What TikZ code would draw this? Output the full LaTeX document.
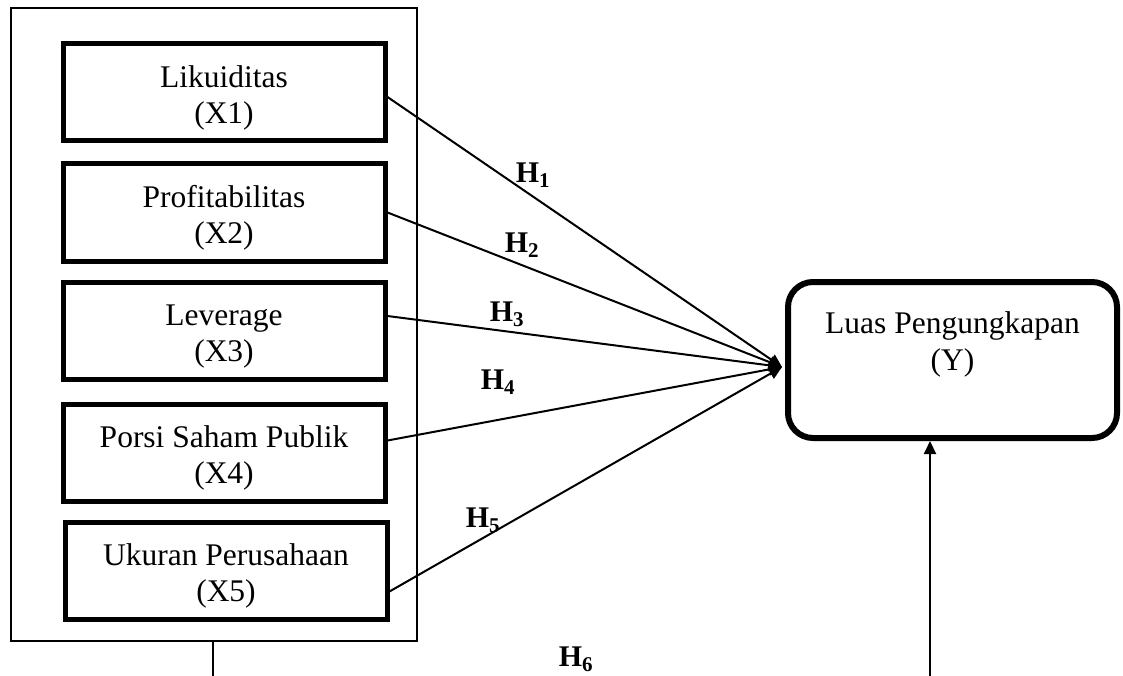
\documentclass[tikz,border=0pt]{standalone}
\usepackage{fontspec}
\setmainfont{Liberation Serif}
\usetikzlibrary{calc,arrows.meta}

\begin{document}
\begin{tikzpicture}[x=1pt, y=-1pt, >={Triangle[length=13pt,width=12pt]},
    varbox/.style={draw, line width=5pt, minimum width=322pt, minimum height=97pt,
        inner sep=0pt, text height=68pt, align=center, font=\fontsize{31.5}{36}\selectfont},
    hlabel/.style={font=\fontsize{30}{34}\selectfont\bfseries},
    link/.style={->, line width=2pt}]
    \useasboundingbox (0,0) rectangle (1123,676);

    % Group frame
    \node[draw, line width=2.5pt, minimum width=406pt, minimum height=633pt] (grp) at (214,324.5) {};

    % Independent variables
    \node[varbox] (b1) at (224,92.5) {Likuiditas\\(X1)};
    \node[varbox] (b2) at (224,212.5) {Profitabilitas\\(X2)};
    \node[varbox] (b3) at (224,331) {Leverage\\(X3)};
    \node[varbox] (b4) at (224,452.5) {Porsi Saham Publik\\(X4)};
    \node[varbox] (b5) at (226,570.5) {Ukuran Perusahaan\\(X5)};

    % Dependent variable
    \node[draw, line width=6pt, rounded corners=25pt, minimum width=329pt, minimum height=156pt,
        align=center, font=\fontsize{31.5}{37}\selectfont] (lp) at (952.5,360) {Luas Pengungkapan\\(Y)\\~};

    % Arrows
    \coordinate (hub) at (782,367);
    \draw[link] ([yshift=-4.5pt]b1.east) -- (hub);
    \draw[link] (b2.east) -- (hub);
    \draw[link] ([yshift=15pt]b3.east) -- (hub);
    \draw[link] ([yshift=12pt]b4.east) -- (hub);
    \draw[link] ([yshift=-21pt]b5.east) -- (hub);

    \coordinate (gout) at (213,676);
    \coordinate (lpin) at (930,676);
    \draw[line width=2pt] (gout |- grp.south) -- (gout);
    \draw[link] (lpin) -- (lpin |- lp.south);

    % Hypotheses
    \node[hlabel] (h1) at (533,175) {H\textsubscript{1}};
    \node[hlabel] (h2) at (522,245) {H\textsubscript{2}};
    \node[hlabel] (h3) at (507,314) {H\textsubscript{3}};
    \node[hlabel] (h4) at (498,382) {H\textsubscript{4}};
    \node[hlabel] (h5) at (483,520) {H\textsubscript{5}};
    \node[hlabel] (h6) at (576,659) {H\textsubscript{6}};
\end{tikzpicture}
\end{document}
